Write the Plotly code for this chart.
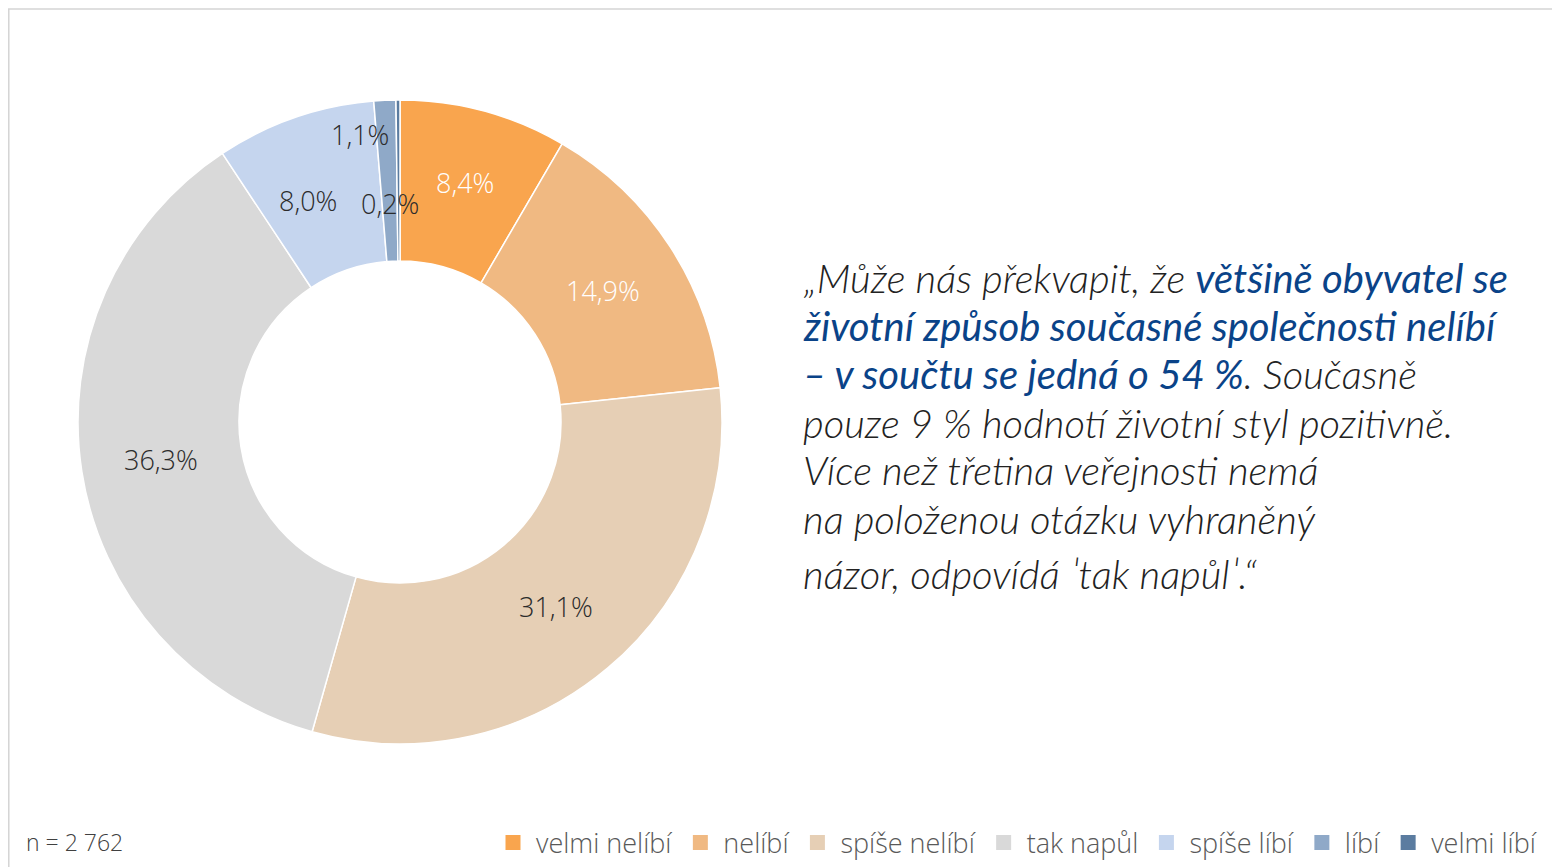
import math
import plotly.graph_objects as go

categories = ["velmi nelíbí", "nelíbí", "spíše nelíbí", "tak napůl", "spíše líbí", "líbí", "velmi líbí"]
values = [8.4, 14.9, 31.1, 36.3, 8.0, 1.1, 0.2]
value_labels = ["8,4%", "14,9%", "31,1%", "36,3%", "8,0%", "1,1%", "0,2%"]
colors = ["#F9A54E", "#F0B982", "#E6CFB5", "#D9D9D9", "#C5D5EE", "#8FA9C8", "#5B7CA0"]
label_colors = ["#FFFFFF", "#FFFFFF", "#2B2B2B", "#2B2B2B", "#2B2B2B", "#2B2B2B", "#2B2B2B"]
sample_note = "n = 2 762"

BLUE = "#0A4388"
BSPAN = "<span style='color:%s;font-weight:400'>" % BLUE
quote_lines = [
    "„Může nás překvapit, že " + BSPAN + "většině obyvatel se</span>",
    BSPAN + "životní způsob současné společnosti nelíbí</span>",
    BSPAN + "– v součtu se jedná o 54 %</span>. Současně",
    "pouze 9 % hodnotí životní styl pozitivně.",
    "Více než třetina veřejnosti nemá",
    "na položenou otázku vyhraněný",
    "názor, odpovídá ˈtak napůlˈ.“",
]

W, H = 1560, 867
OFF = 8  # page margin around the figure
CX, CY, R = 400, 422, 322
HOLE = 0.5


def px_x(px):
    return (px - OFF) / W


def px_y(py):
    return 1 - (py - OFF) / H


fig = go.Figure()
fig.add_trace(go.Pie(
    labels=categories, values=values, sort=False, direction="clockwise", rotation=0,
    hole=HOLE, textinfo="none", hoverinfo="label+percent", showlegend=False,
    marker=dict(colors=colors, line=dict(color="#FFFFFF", width=1.5)),
    domain=dict(x=[px_x(CX - R), px_x(CX + R)], y=[px_y(CY + R), px_y(CY - R)]),
))

# legend entries (square swatches) for each category
for name, col in zip(categories, colors):
    fig.add_trace(go.Scatter(
        x=[None], y=[None], mode="markers", name=name, showlegend=True, hoverinfo="skip",
        marker=dict(symbol="square", size=15, color=col, line=dict(width=0)),
    ))

# label positions derived from the data (mid-angle, mid-radius); some nudged like the original
label_adjust = {0: (0.77, 0.0), 4: (0.744, -3.5), 5: (0.90, -5.2), 6: (0.68, -2.3)}
total = sum(values)
cum = 0.0
annotations = []
for i, v in enumerate(values):
    mid = (cum + v / 2) / total * 360.0
    cum += v
    rf, dang = label_adjust.get(i, ((1 + HOLE) / 2, 0.0))
    ang = math.radians(mid + dang)
    r = R * rf
    px = CX + r * math.sin(ang)
    py = CY - r * math.cos(ang)
    annotations.append(dict(
        x=px_x(px), y=px_y(py), xref="paper", yref="paper", text=value_labels[i], showarrow=False,
        xanchor="center", yanchor="middle",
        font=dict(family="Open Sans", size=27, color=label_colors[i], weight=300),
    ))

line_y = [278, 326, 374, 423, 470, 519, 574]
for txt, ly in zip(quote_lines, line_y):
    annotations.append(dict(
        x=px_x(801), y=px_y(ly), xref="paper", yref="paper", text="<i>" + txt + "</i>", showarrow=False,
        xanchor="left", yanchor="middle",
        font=dict(family="Lato", size=40, color="#222222", weight=300),
    ))

annotations.append(dict(
    x=px_x(24), y=px_y(842), xref="paper", yref="paper", text=sample_note, showarrow=False,
    xanchor="left", yanchor="middle", font=dict(family="Open Sans", size=23, color="#404040", weight=300),
))

shapes = [
    dict(type="line", xref="paper", yref="paper", x0=0, x1=1, y0=px_y(9), y1=px_y(9),
         line=dict(color="#D4D4D4", width=1.5)),
    dict(type="line", xref="paper", yref="paper", x0=0.0005, x1=0.0005, y0=0, y1=px_y(9),
         line=dict(color="#D4D4D4", width=1.5)),
]

fig.update_layout(
    width=W, height=H, margin=dict(l=0, r=0, t=0, b=0),
    paper_bgcolor="#FFFFFF", plot_bgcolor="#FFFFFF",
    annotations=annotations, shapes=shapes,
    xaxis=dict(visible=False), yaxis=dict(visible=False),
    showlegend=True,
    legend=dict(orientation="h", x=px_x(1542), xanchor="right", y=px_y(843), yanchor="middle",
                font=dict(family="Open Sans", size=27, color="#595959", weight=300),
                itemsizing="trace", itemwidth=36, bgcolor="rgba(0,0,0,0)", traceorder="normal"),
)

fig.write_html("out.html")
